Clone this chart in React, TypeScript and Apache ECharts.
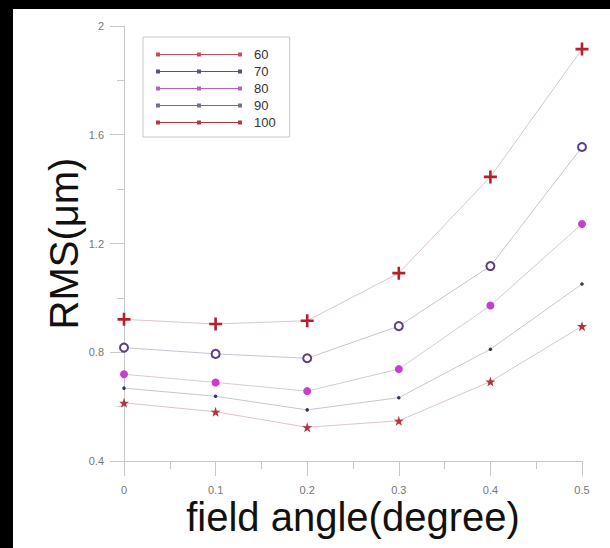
import React, { useEffect, useRef } from "react";
import * as echarts from "echarts";

const fieldAngles = [0, 0.1, 0.2, 0.3, 0.4, 0.5];
const seriesNames = ["60", "70", "80", "90", "100"];
const rms60 = [0.614, 0.581, 0.524, 0.548, 0.692, 0.896];
const rms70 = [0.668, 0.638, 0.588, 0.633, 0.811, 1.051];
const rms80 = [0.719, 0.689, 0.657, 0.738, 0.972, 1.272];
const rms90 = [0.817, 0.794, 0.778, 0.896, 1.117, 1.555];
const rms100 = [0.921, 0.904, 0.916, 1.091, 1.445, 1.915];
const xTicks = [0, 0.1, 0.2, 0.3, 0.4, 0.5];
const yTicks = [0.4, 0.8, 1.2, 1.6, 2];

const STAR =
  "path://M50,0 L61.8,35.1 L97.6,34.5 L69,56.2 L79.4,90.5 L50,70 L20.6,90.5 L31,56.2 L2.4,34.5 L38.2,35.1 Z";
const PLUS = "path://M40,0 H60 V40 H100 V60 H60 V100 H40 V60 H0 V40 H40 Z";
const LEGEND_ICON =
  "path://M0,0h4v4h-4z M4,1.5h37v1h-37z M41,0h4v4h-4z M45,1.5h37v1h-37z M82,0h4v4h-4z";

const FONT = "'Liberation Sans', Arial, Helvetica, sans-serif";

export default function App() {
  const ref = useRef<HTMLDivElement>(null);
  useEffect(() => {
    if (!ref.current) return;
    const chart = echarts.init(ref.current, undefined, { renderer: "svg" });
    const values = [rms60, rms70, rms80, rms90, rms100];
    const styles = [
      { symbol: STAR, size: 10, color: "#b5333f", line: "#dcc4c8", legend: "#c0505a" },
      { symbol: "circle", size: 3.5, color: "#2c3a5a", line: "#c8c8cc", legend: "#555a70" },
      { symbol: "circle", size: 8, color: "#c93ecf", line: "#d8c8da", legend: "#b860c0" },
      { symbol: "emptyCircle", size: 8, color: "#5e3f82", line: "#c8c4d0", legend: "#7a6a90" },
      { symbol: PLUS, size: 13, color: "#b3202c", line: "#dcc4c8", legend: "#b03a44" },
    ];
    const series = seriesNames.map((name, i) => ({
      name,
      type: "line",
      data: fieldAngles.map((x, j) => [x, values[i][j]]),
      symbol: styles[i].symbol,
      symbolSize: styles[i].size,
      showAllSymbol: true,
      lineStyle: { color: styles[i].line, width: 1 },
      itemStyle:
        styles[i].symbol === "emptyCircle"
          ? { color: styles[i].color, borderColor: styles[i].color, borderWidth: 1.8 }
          : { color: styles[i].color },
      z: 3,
    }));
    chart.setOption({
      animation: false,
      backgroundColor: "#ffffff",
      textStyle: { fontFamily: FONT },
      graphic: [
        { type: "rect", left: 0, top: 0, shape: { width: 610, height: 9 }, style: { fill: "#000" }, z: 100 },
        { type: "rect", left: 0, top: 0, shape: { width: 13, height: 548 }, style: { fill: "#000" }, z: 100 },
      ],
      grid: { left: 124, right: 28, top: 26, bottom: 87 },
      legend: {
        orient: "vertical",
        left: 143,
        top: 37,
        padding: [11, 14, 8, 13],
        itemGap: 4,
        itemWidth: 86,
        itemHeight: 4,
        borderColor: "#c8c8c8",
        borderWidth: 1,
        icon: LEGEND_ICON,
        textStyle: { fontSize: 13, color: "#333", fontFamily: FONT, padding: [0, 0, 0, 7] },
        data: seriesNames.map((n, i) => ({
          name: n,
          itemStyle: { color: styles[i].legend, borderWidth: 0 },
        })),
      },
      xAxis: {
        type: "value",
        min: xTicks[0],
        max: xTicks[xTicks.length - 1],
        interval: 0.1,
        name: "field angle(degree)",
        nameLocation: "middle",
        nameGap: 36,
        nameMoveOverlap: false,
        nameTextStyle: { fontSize: 40, lineHeight: 40, color: "#111", fontFamily: FONT },
        axisLine: { show: true, lineStyle: { color: "#c8c8c8", width: 1 } },
        axisTick: { show: true, length: 15, lineStyle: { color: "#c8c8c8" } },
        minorTick: { show: true, splitNumber: 2, length: 8, lineStyle: { color: "#c8c8c8" } },
        splitLine: { show: false },
        axisLabel: { fontSize: 11, lineHeight: 11, color: "#777", margin: 23, fontFamily: FONT },
      },
      yAxis: {
        type: "value",
        min: yTicks[0],
        max: yTicks[yTicks.length - 1],
        interval: 0.4,
        name: "RMS(μm)",
        nameLocation: "middle",
        nameGap: 40,
        nameMoveOverlap: false,
        nameTextStyle: { fontSize: 40, color: "#111", fontFamily: FONT },
        axisLine: { show: true, lineStyle: { color: "#c8c8c8", width: 1 } },
        axisTick: { show: true, length: 14, lineStyle: { color: "#c8c8c8" } },
        minorTick: { show: true, splitNumber: 2, length: 7, lineStyle: { color: "#c8c8c8" } },
        splitLine: { show: false },
        axisLabel: { fontSize: 11, color: "#777", margin: 20, fontFamily: FONT },
      },
      series,
    });
    return () => chart.dispose();
  }, []);
  return (
    <div
      ref={ref}
      style={{ position: "fixed", left: 0, top: 0, width: 610, height: 548, background: "#fff" }}
    />
  );
}
